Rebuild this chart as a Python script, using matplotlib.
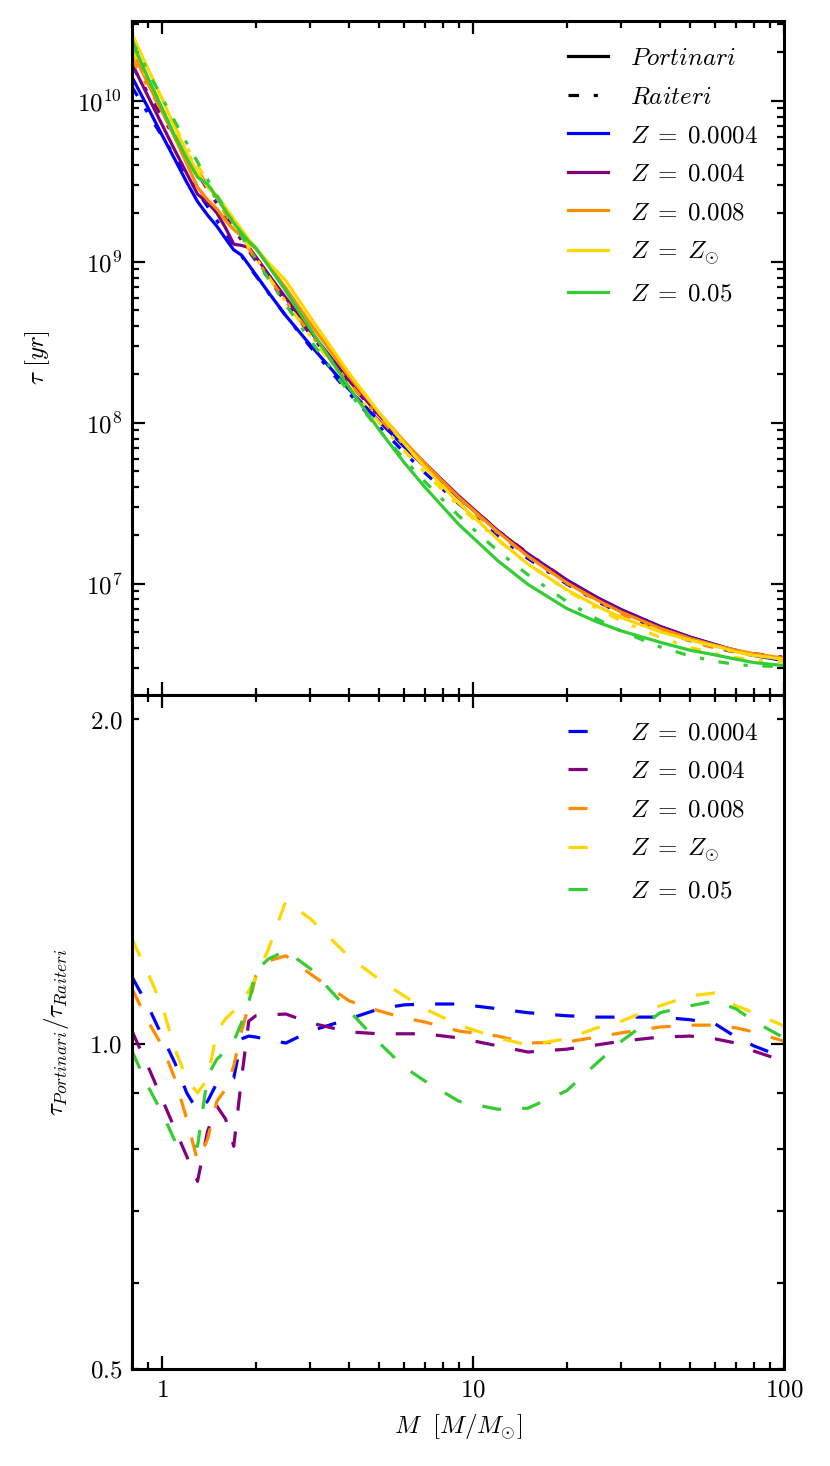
import matplotlib
matplotlib.use("Agg")
import matplotlib.pyplot as plt
from matplotlib.ticker import FixedLocator, FuncFormatter, LogLocator, NullFormatter
import numpy as np

plt.rcParams['mathtext.fontset'] = 'cm'
plt.rcParams['font.family'] = 'serif'
plt.rcParams['font.size'] = 9

# stellar mass grid [M/Msun]
mass = [0.8, 0.9, 1.0, 1.1, 1.2, 1.3, 1.4, 1.5, 1.6, 1.7, 1.8, 1.9, 2.0, 2.2, 2.5,
        3, 4, 5, 6, 7, 9, 12, 15, 20, 25, 30, 40, 50, 60, 70, 80, 100]

labels = [r'$Z\;=\;0.0004$', r'$Z\;=\;0.004$', r'$Z\;=\;0.008$', r'$Z\;=\;Z_{\odot}$', r'$Z\;=\;0.05$']
colors = ['blue', 'purple', 'darkorange', 'gold', 'limegreen']

# log10 of Raiteri lifetimes [yr]
log_raiteri_0004 = [10.087, 9.924, 9.780, 9.653, 9.540, 9.437, 9.344, 9.258, 9.179, 9.106,
                    9.038, 8.974, 8.915, 8.806, 8.665, 8.471, 8.183, 7.976, 7.817, 7.690,
                    7.497, 7.297, 7.158, 6.999, 6.892, 6.815, 6.711, 6.647, 6.605, 6.576,
                    6.557, 6.536]
log_raiteri_004 = [10.220, 10.051, 9.903, 9.771, 9.654, 9.548, 9.451, 9.362, 9.281, 9.205,
                   9.135, 9.069, 9.007, 8.895, 8.749, 8.548, 8.250, 8.036, 7.872, 7.740,
                   7.540, 7.333, 7.190, 7.025, 6.914, 6.834, 6.727, 6.660, 6.616, 6.587,
                   6.567, 6.544]
log_raiteri_008 = [10.262, 10.088, 9.936, 9.802, 9.681, 9.573, 9.474, 9.383, 9.299, 9.222,
                   9.150, 9.083, 9.020, 8.905, 8.756, 8.551, 8.247, 8.029, 7.862, 7.728,
                   7.525, 7.316, 7.171, 7.005, 6.894, 6.814, 6.708, 6.643, 6.601, 6.573,
                   6.555, 6.536]
log_raiteri_sun = [10.317, 10.136, 9.978, 9.838, 9.713, 9.600, 9.497, 9.402, 9.315, 9.235,
                   9.161, 9.091, 9.026, 8.907, 8.751, 8.539, 8.226, 8.001, 7.829, 7.692,
                   7.484, 7.272, 7.125, 6.959, 6.848, 6.769, 6.667, 6.605, 6.567, 6.542,
                   6.527, 6.515]
log_raiteri_05 = [10.375, 10.184, 10.018, 9.871, 9.739, 9.621, 9.513, 9.414, 9.323, 9.239,
                  9.161, 9.088, 9.020, 8.895, 8.733, 8.512, 8.187, 7.954, 7.776, 7.635,
                  7.422, 7.205, 7.057, 6.891, 6.782, 6.705, 6.608, 6.552, 6.519, 6.500,
                  6.490, 6.487]

# tau_Portinari / tau_Raiteri
ratio_0004 = [1.154, 1.085, 1.017, 0.960, 0.901, 0.867, 0.885, 0.920, 0.924, 0.930,
              1.011, 1.017, 1.015, 1.009, 1.002, 1.028, 1.055, 1.078, 1.087, 1.089,
              1.089, 1.078, 1.069, 1.062, 1.059, 1.059, 1.059, 1.053, 1.044, 1.015,
              0.996, 0.971]
ratio_004 = [1.028, 0.954, 0.889, 0.834, 0.787, 0.746, 0.830, 0.876, 0.852, 0.804,
             0.928, 1.050, 1.062, 1.064, 1.066, 1.046, 1.026, 1.022, 1.022, 1.022,
             1.013, 0.996, 0.983, 0.989, 0.998, 1.006, 1.015, 1.017, 1.011, 1.002,
             0.985, 0.964]
ratio_008 = [1.125, 1.050, 0.996, 0.928, 0.852, 0.779, 0.816, 0.885, 0.908, 0.954,
             1.028, 1.085, 1.156, 1.194, 1.207, 1.161, 1.096, 1.073, 1.057, 1.048,
             1.028, 1.017, 1.002, 1.004, 1.015, 1.024, 1.037, 1.041, 1.041, 1.035,
             1.026, 1.006]
ratio_sun = [1.251, 1.164, 1.085, 0.989, 0.928, 0.901, 0.928, 1.028, 1.055, 1.073,
             1.096, 1.120, 1.151, 1.225, 1.357, 1.306, 1.204, 1.147, 1.108, 1.078,
             1.041, 1.013, 0.998, 1.011, 1.035, 1.050, 1.085, 1.108, 1.115, 1.085,
             1.069, 1.039]
ratio_05 = [0.985, 0.914, 0.863, 0.813, 0.804, 0.804, 0.934, 0.968, 0.985, 1.006,
            1.046, 1.092, 1.169, 1.199, 1.220, 1.174, 1.073, 1.002, 0.952, 0.924,
            0.885, 0.870, 0.872, 0.905, 0.960, 1.006, 1.069, 1.085, 1.096, 1.078,
            1.050, 1.013]

log_raiteri = [log_raiteri_0004, log_raiteri_004, log_raiteri_008, log_raiteri_sun, log_raiteri_05]
ratios = [ratio_0004, ratio_004, ratio_008, ratio_sun, ratio_05]

LW = 1.15
DASHDOT = (0, (3.3, 4.6, 1.3, 4.6))
DASHED = (0, (6.0, 6.6))


def style_axis(ax):
    ax.tick_params(which='both', direction='in', top=True, right=True, width=0.8)
    ax.tick_params(which='major', length=4.7)
    ax.tick_params(which='minor', length=2.6)
    for s in ax.spines.values():
        s.set_linewidth(1.1)


fig = plt.figure(figsize=(4.15, 7.33), dpi=200)
ax1 = fig.add_axes([0.159, 0.5259, 0.7856, 0.4598])
ax2 = fig.add_axes([0.159, 0.0662, 0.7856, 0.4597], sharex=ax1)

m = np.array(mass)
for lr, r, c in zip(log_raiteri, ratios, colors):
    tau_r = 10 ** np.array(lr)
    tau_p = tau_r * np.array(r)   # Portinari = ratio x Raiteri
    ax1.plot(m, tau_p, color=c, lw=LW, ls='-')
    ax1.plot(m, tau_r, color=c, lw=LW, ls=DASHDOT)

# legend handles for the upper panel
ax1.plot([], [], color='black', lw=LW, ls='-', label=r'$Portinari$')
ax1.plot([], [], color='black', lw=LW, ls=DASHDOT, label=r'$Raiteri$')
for c, lab in zip(colors, labels):
    ax1.plot([], [], color=c, lw=LW, ls='-', label=lab)

for r, c, lab in zip(ratios, colors, labels):
    ax2.plot(m, r, color=c, lw=LW, ls=DASHED, label=lab)

ax1.set_xscale('log')
ax1.set_yscale('log')
ax2.set_yscale('log')
ax1.set_xlim(0.8, 100)
ax1.set_ylim(2.04e6, 3.14e10)
ax2.set_ylim(0.5, 2.105)

ax1.yaxis.set_major_locator(LogLocator(base=10, numticks=20))
ax1.yaxis.set_minor_locator(LogLocator(base=10, subs=np.arange(2, 10), numticks=20))
ax1.yaxis.set_major_formatter(FuncFormatter(lambda v, p: r'$10^{%d}$' % round(np.log10(v))))
ax1.yaxis.set_minor_formatter(NullFormatter())

ax2.xaxis.set_major_locator(FixedLocator([1, 10, 100]))
ax2.xaxis.set_minor_locator(LogLocator(base=10, subs=np.arange(2, 10), numticks=20))
ax2.xaxis.set_major_formatter(FuncFormatter(lambda v, p: r'$%d$' % round(v)))
ax2.xaxis.set_minor_formatter(NullFormatter())
plt.setp(ax1.get_xticklabels(), visible=False)

ax2.yaxis.set_major_locator(FixedLocator([1.0]))
ax2.yaxis.set_minor_locator(FixedLocator([0.5, 0.6, 0.7, 0.8, 0.9, 2.0]))
ax2.yaxis.set_major_formatter(FuncFormatter(lambda v, p: r'$%.1f$' % v))
ax2.yaxis.set_minor_formatter(FuncFormatter(
    lambda v, p: r'$%.1f$' % v if abs(v - 0.5) < 1e-6 or abs(v - 2.0) < 1e-6 else ''))

style_axis(ax1)
style_axis(ax2)

ax1.set_ylabel(r'$\tau\ [yr]$')
ax2.set_ylabel(r'$\tau_{Portinari}/\tau_{Raiteri}$')
ax2.set_xlabel(r'$M\ \ [M/M_{\odot}]$')
ax1.yaxis.set_label_coords(-0.123, 0.5)
ax2.yaxis.set_label_coords(-0.094, 0.5)

leg_kw = dict(loc='upper right', frameon=False, handlelength=1.6, handletextpad=0.85,
              labelspacing=0.62, borderaxespad=0.65)
ax1.legend(**leg_kw)
ax2.legend(**leg_kw)

fig.savefig('out.png', dpi=200)
